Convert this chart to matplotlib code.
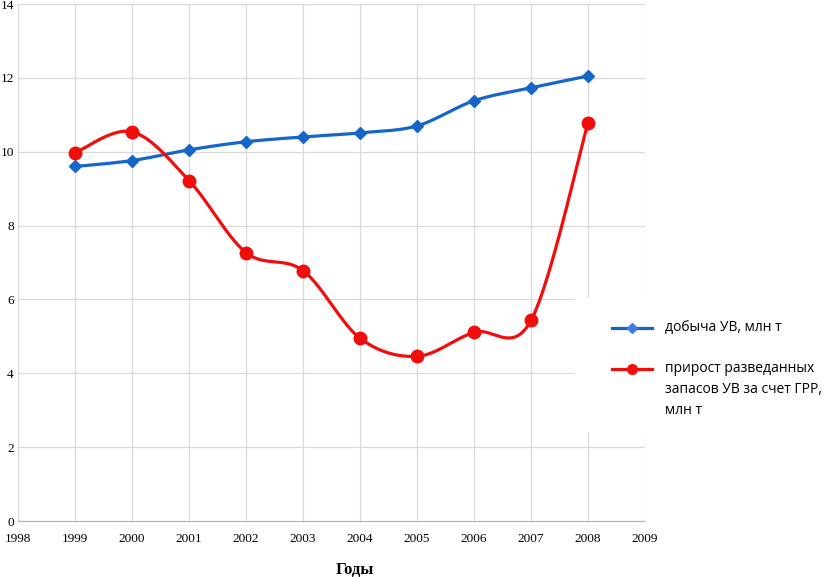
import matplotlib
matplotlib.use("Agg")
import matplotlib.pyplot as plt
from matplotlib.patches import Rectangle
from matplotlib.lines import Line2D
import numpy as np

# данные графика
years = [1999, 2000, 2001, 2002, 2003, 2004, 2005, 2006, 2007, 2008]
dobycha = [9.6, 9.76, 10.05, 10.27, 10.4, 10.51, 10.7, 11.38, 11.73, 12.05]
prirost = [9.97, 10.54, 9.22, 7.27, 6.78, 4.95, 4.46, 5.11, 5.43, 10.78]
label_dob = "добыча УВ, млн т"
label_pri = ["прирост разведанных", "запасов УВ за счет ГРР,", "млн т"]

BLUE = "#1666c9"
RED = "#f20d0d"
W, H = 827, 577


def smooth(xs, ys, n=40):
    # сглаживание как в Excel (кривые Безье по Катмуллу-Рому)
    p = np.column_stack([xs, ys]).astype(float)
    p = np.vstack([p[0], p, p[-1]])
    out = []
    t = np.linspace(0, 1, n)[:, None]
    for i in range(1, len(p) - 2):
        a, b = p[i], p[i + 1]
        c1 = a + (p[i + 1] - p[i - 1]) / 6
        c2 = b - (p[i + 2] - p[i]) / 6
        seg = (1 - t) ** 3 * a + 3 * (1 - t) ** 2 * t * c1 + 3 * (1 - t) * t ** 2 * c2 + t ** 3 * b
        out.append(seg)
    out = np.vstack(out)
    return out[:, 0], out[:, 1]


def fx(px):
    return px / W


def fy(py):
    return 1 - py / H


fig = plt.figure(figsize=(8.27, 5.77), dpi=100)
ax = fig.add_axes([fx(18), fy(521), fx(645) - fx(18), fy(4) - fy(521)])

sx, sy = smooth(years, dobycha)
ax.plot(sx, sy, color=BLUE, lw=2.3, zorder=3)
ax.plot(years, dobycha, ls="none", marker="D", ms=6.5, color=BLUE, zorder=4)

sx, sy = smooth(years, prirost)
ax.plot(sx, sy, color=RED, lw=2.3, zorder=3)
ax.plot(years, prirost, ls="none", marker="o", ms=9, color=RED, zorder=4)

ax.set_xlim(1998, 2009)
ax.set_ylim(0, 14)
ax.set_xticks(range(1998, 2010))
ax.set_yticks(range(0, 15, 2))
ax.grid(True, color="#d9d9d9", lw=0.9)
ax.set_axisbelow(True)
for s in ["top", "right"]:
    ax.spines[s].set_visible(False)
ax.spines["left"].set_color("#d9d9d9")
ax.spines["bottom"].set_color("#b3b3b3")
ax.tick_params(length=0, labelsize=9.5)
ax.tick_params(axis="x", pad=9)
ax.tick_params(axis="y", pad=3)
for lab in ax.get_xticklabels() + ax.get_yticklabels():
    lab.set_family("Liberation Serif")

fig.text(fx(355), fy(570), "Годы", family="Liberation Serif", fontweight="bold",
         fontsize=12, ha="center", va="center")

# легенда вручную
fig.patches.append(Rectangle((fx(575), fy(432)), fx(827) - fx(575), fy(298) - fy(432),
                             transform=fig.transFigure, facecolor="white", edgecolor="none", zorder=5))
fig.lines.append(Line2D([fx(612), fx(652)], [fy(328), fy(328)], transform=fig.transFigure,
                        color=BLUE, lw=2.3, zorder=6))
fig.lines.append(Line2D([fx(632)], [fy(328)], transform=fig.transFigure, ls="none",
                        marker="D", ms=5, color="#3f7ae8", zorder=7))
fig.lines.append(Line2D([fx(612), fx(652)], [fy(369), fy(369)], transform=fig.transFigure,
                        color=RED, lw=2.3, zorder=6))
fig.lines.append(Line2D([fx(632)], [fy(369)], transform=fig.transFigure, ls="none",
                        marker="o", ms=7, color=RED, zorder=7))
fig.text(fx(665), fy(328), label_dob, family=["Open Sans", "DejaVu Sans"], fontsize=10,
         va="center", ha="left", zorder=8)
for i, line in enumerate(label_pri):
    fig.text(fx(665), fy(369 + 20.5 * i), line, family=["Open Sans", "DejaVu Sans"],
             fontsize=10, va="center", ha="left", zorder=8)

fig.savefig("out.png", dpi=100)
